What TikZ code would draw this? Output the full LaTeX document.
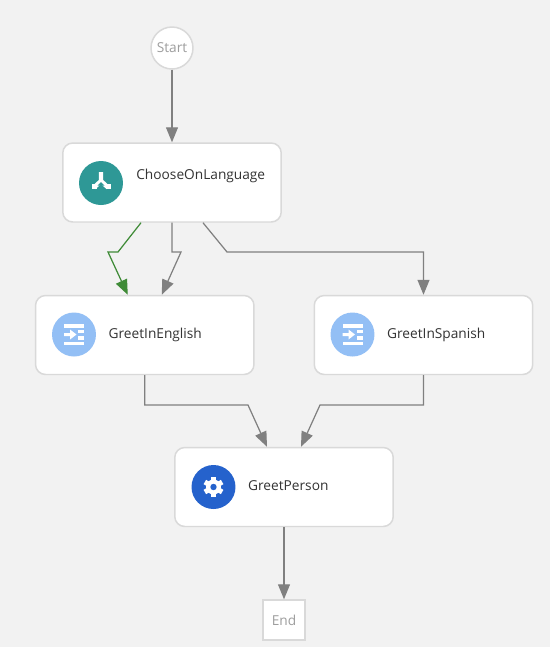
\documentclass[tikz,border=0pt]{standalone}
\usepackage{fontspec}
\setmainfont{Open Sans}
\usetikzlibrary{arrows.meta,positioning,calc}
\definecolor{pagegray}{HTML}{F2F2F2}
\definecolor{edgegray}{HTML}{D9D9D9}
\definecolor{linegray}{HTML}{808080}
\definecolor{flowgreen}{HTML}{3F8B37}
\definecolor{tealicon}{HTML}{2E9896}
\definecolor{paleicon}{HTML}{93BFF5}
\definecolor{blueicon}{HTML}{2562CC}
\tikzset{
  state/.style={draw=edgegray, fill=white, line width=0.85pt, rounded corners=0.2cm, minimum width=4.37cm, minimum height=1.58cm},
  terminal/.style={draw=edgegray, fill=white, line width=0.85pt, text=black!38, font=\fontsize{7.8}{10}\selectfont, inner sep=0pt},
  icon/.style={circle, minimum size=0.88cm, inner sep=0pt},
  statename/.style={inner sep=0pt, text=black!80, font=\fontsize{7.8}{10}\selectfont},
  flow/.style={-{Triangle[length=0.3cm, width=0.24cm]}, draw=linegray, line width=0.7pt},
  injecticon/.pic={
    \fill [white] (-10,-10.5) rectangle (10,-7);
    \fill [white] (-10,7) rectangle (10,10.5);
    \fill [white] (4,-5) rectangle (10,-1.5);
    \fill [white] (4,1.5) rectangle (10,5);
    \fill [white] (-10,-1.5) -- (-4,-1.5) -- (-4,-5) -- (2.5,0) -- (-4,5) -- (-4,1.5) -- (-10,1.5) -- cycle;
  }
}
\begin{document}
\begin{tikzpicture}[x=0.02cm, y=-0.02cm]
    \fill [pagegray] (0,0) rectangle (550,647);
    % nodes
    \node [terminal, circle, minimum size=0.84cm] (start) at (172,48) {Start};
    \node [state] (choose) at (172,182.5) {};
    \node [state] (english) at (144.75,335) {};
    \node [state] (spanish) at (423.5,335) {};
    \node [state] (person) at (284,487) {};
    \node [terminal, minimum width=0.84cm, minimum height=0.8cm] (end) at (284,620) {End};
    % icons
    \node [icon, fill=tealicon] (chooseicon) at (101,183) {};
    \node [icon, fill=paleicon] (englishicon) at (74,334.5) {};
    \node [icon, fill=paleicon] (spanishicon) at (352.5,334.5) {};
    \node [icon, fill=blueicon] (personicon) at (213.5,487) {};
    % names
    \node [statename, anchor=west] at (136,176) {ChooseOnLanguage};
    \node [statename, right=0.24cm of englishicon] {GreetInEnglish};
    \node [statename, right=0.24cm of spanishicon] {GreetInSpanish};
    \node [statename, right=0.24cm of personicon, yshift=0.02cm] {GreetPerson};
    % icon drawings
    \draw [white, line width=2.5pt, line join=round] (chooseicon.center) ++(0,-11) -- ++(0,9) -- ++(-7,6.5);
    \draw [white, line width=2.5pt, line join=round] (chooseicon.center) ++(0,-2) -- ++(7,6.5);
    \fill [white] ($(chooseicon.center)+(-9.5,1)$) rectangle +(5,5);
    \fill [white] ($(chooseicon.center)+(4.5,1)$) rectangle +(5,5);
    \fill [tealicon] ($(chooseicon.center)+(0,-1)$) -- +(-3.5,3.5) -- +(3.5,3.5) -- cycle;
    \pic at (englishicon) {injecticon};
    \pic at (spanishicon) {injecticon};
    \foreach \a in {0,60,...,300}
    \fill [white, rotate around={\a:(personicon.center)}] ($(personicon.center)+(-2.5,-10)$) rectangle +(5,6);
    \fill [white] (personicon.center) circle [radius=7.5];
    \fill [blueicon] (personicon.center) circle [radius=3.2];
    % connectors
    \draw [flow] (start) -- (choose);
    \draw [flow, draw=flowgreen] ($(choose.south)+(-31,0)$) -- (118,252) -- (108,252) -- ($(english.north)+(-17,0)$);
    \draw [flow] (choose.south) -- (172,252) -- (181,252) -- ($(english.north)+(17,0)$);
    \draw [flow] ($(choose.south)+(31,0)$) -- (227,252) -- (423.5,252) -- (spanish.north);
    \draw [flow] (english.south) -- (144.75,405) -- (248,405) -- ($(person.north)+(-17,0)$);
    \draw [flow] (spanish.south) -- (423.5,405) -- (320,405) -- ($(person.north)+(17,0)$);
    \draw [flow] (person) -- (end);
\end{tikzpicture}
\end{document}
